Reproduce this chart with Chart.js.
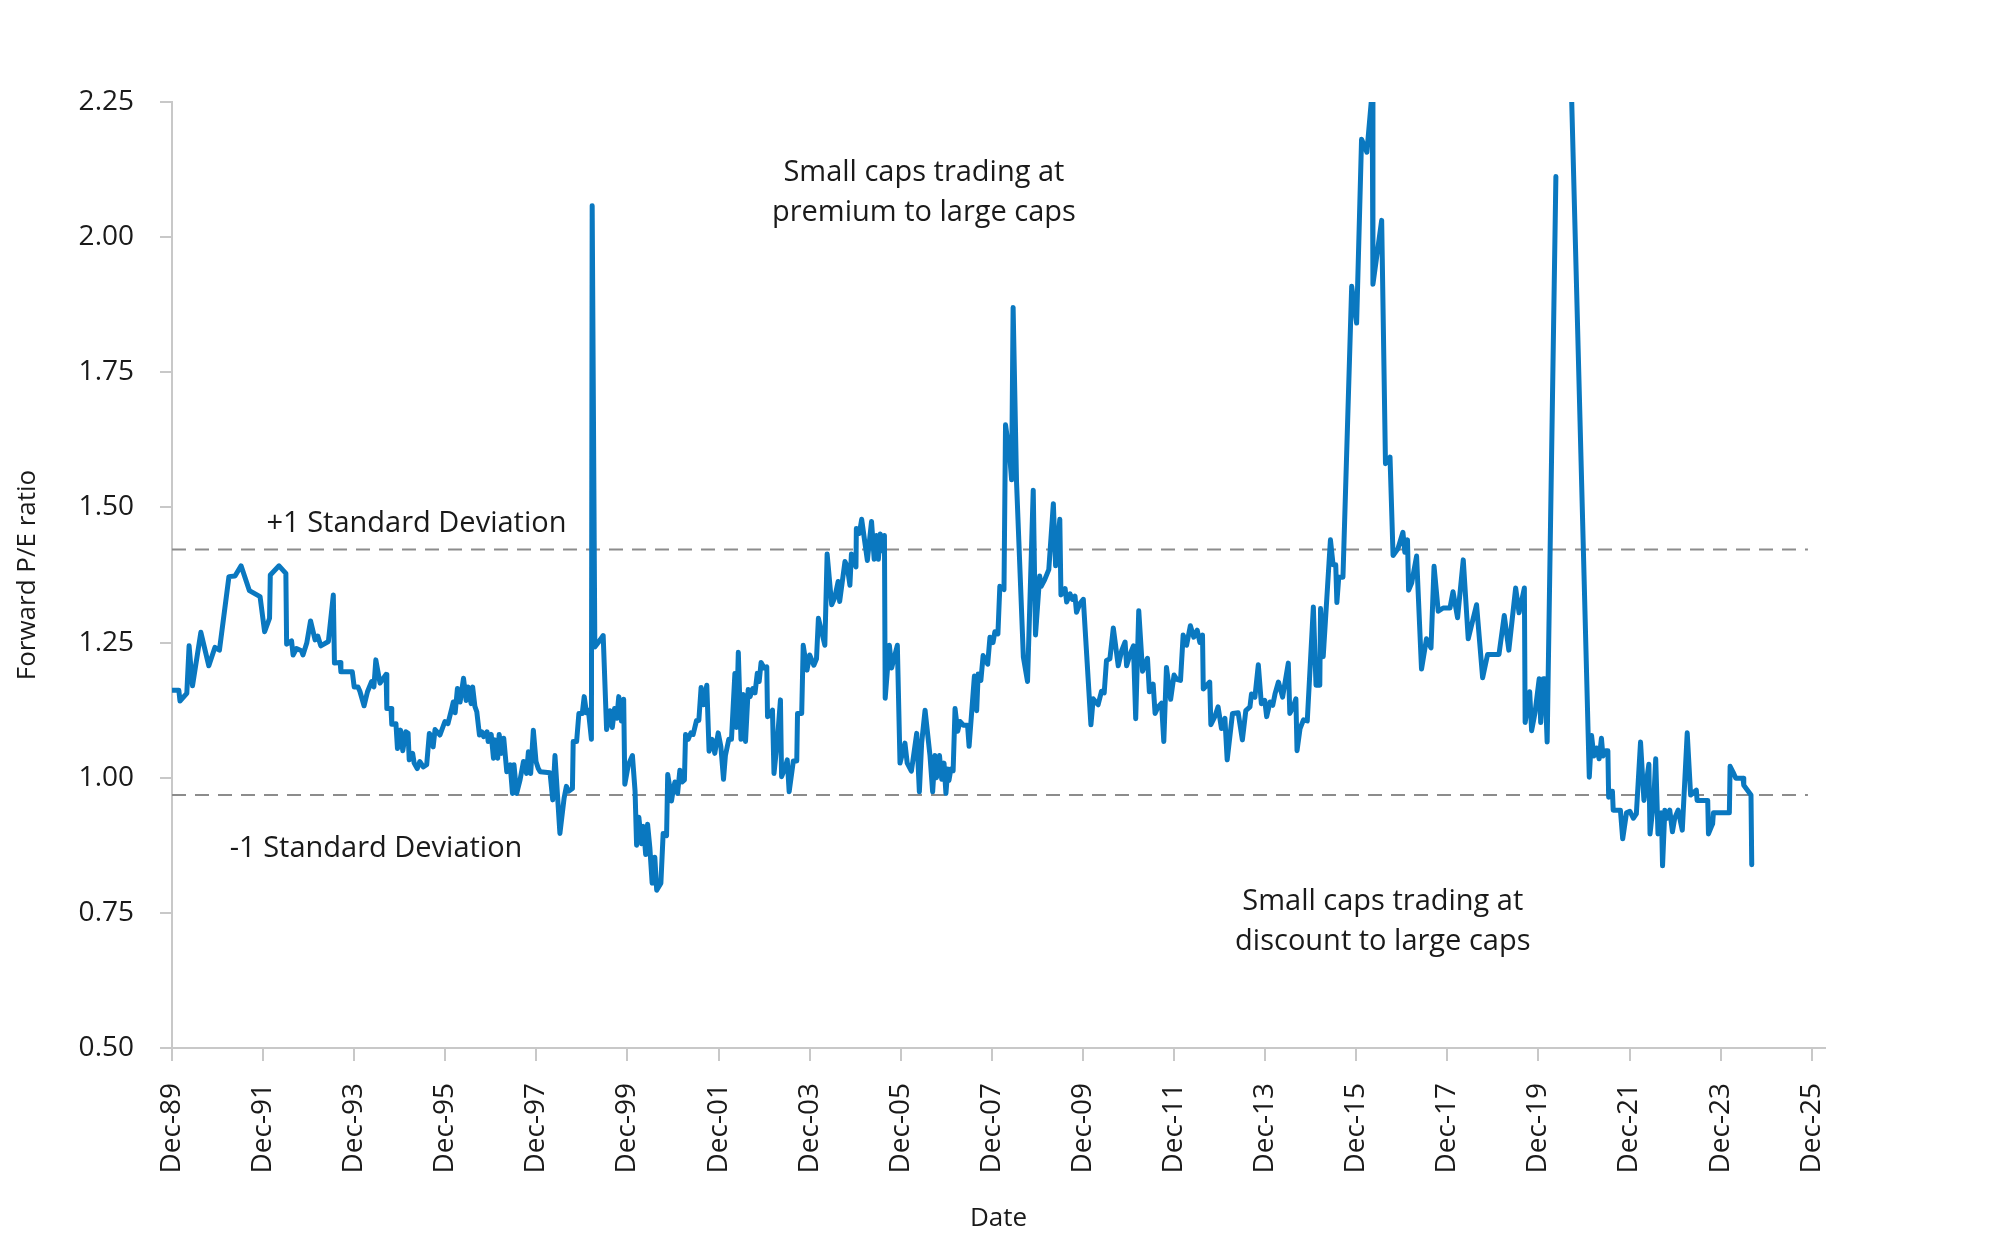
<!DOCTYPE html>
<html>
<head>
<meta charset="utf-8">
<style>
  html, body { margin: 0; padding: 0; background: #ffffff; }
  #wrap { width: 2000px; height: 1249px; }
</style>
<script src="https://cdn.jsdelivr.net/npm/chart.js@4"></script>
</head>
<body>
<div id="wrap"><canvas id="c" width="2000" height="1249"></canvas></div>
<script>
// ---------------- DATA ----------------
// Months elapsed since December 1989 (vertices of the monthly series)
const monthIndex = [
  0, 1.8, 2.1, 3.9, 4.5, 5.4, 7.6, 9.7, 11.3, 12.5,
  15.0, 16.6, 18.2, 20.4, 23.2, 24.4, 25.7, 25.9, 28.2, 30.0,
  30.2, 31.5, 31.9, 32.8, 34.1, 34.5, 35.5, 36.5, 37.7, 38.4,
  39.2, 41.2, 42.5, 42.8, 44.3, 44.5, 47.5, 48.0, 49.0, 49.5,
  50.6, 51.5, 52.6, 53.2, 53.7, 54.8, 56.4, 56.6, 57.7, 57.9,
  59.0, 59.4, 60.2, 60.8, 61.6, 62.2, 62.5, 63.4, 63.8, 64.6,
  65.3, 66.2, 67.1, 67.8, 68.4, 68.8, 69.3, 70.6, 71.9, 72.7,
  73.7, 74.1, 74.6, 75.2, 75.9, 76.8, 77.5, 78.0, 78.8, 79.2,
  79.8, 80.3, 81.0, 81.6, 82.1, 83.0, 83.3, 84.1, 84.7, 85.1,
  85.8, 86.2, 86.8, 87.4, 88.2, 89.1, 89.7, 90.1, 90.8, 91.7,
  92.6, 93.4, 93.9, 94.5, 95.2, 95.9, 96.5, 97.0, 99.6, 100.3,
  100.9, 102.2, 103.3, 103.9, 104.5, 105.5, 105.7, 106.6, 107.2, 108.1,
  108.6, 109.2, 109.7, 110.5, 110.7, 111.4, 112.8, 113.6, 114.5, 115.4,
  116.0, 116.6, 117.2, 117.7, 118.4, 119.0, 119.3, 120.2, 121.3, 122.0,
  122.4, 123.0, 123.7, 124.2, 124.8, 125.3, 125.9, 126.5, 127.2, 127.7,
  128.8, 129.4, 130.3, 130.6, 131.2, 131.6, 132.1, 132.5, 133.2, 133.8,
  134.4, 135.0, 135.3, 136.0, 136.7, 137.3, 138.2, 138.8, 139.4, 140.0,
  140.9, 141.5, 142.3, 143.0, 143.9, 144.6, 145.3, 145.8, 146.7, 147.4,
  148.3, 148.7, 149.2, 149.9, 150.5, 151.1, 151.8, 152.3, 153.0, 153.6,
  154.2, 154.7, 155.2, 156.0, 156.7, 156.9, 157.7, 158.2, 158.6, 159.5,
  160.3, 160.6, 161.5, 162.1, 162.6, 163.7, 164.6, 164.8, 165.9, 166.3,
  167.3, 168.0, 169.1, 169.8, 170.3, 172.0, 172.6, 173.8, 174.6, 175.5,
  175.9, 177.3, 177.9, 178.6, 179.0, 180.2, 180.3, 181.1, 181.7, 183.2,
  184.3, 185.0, 185.6, 186.1, 186.6, 187.1, 187.7, 187.9, 189.0, 189.6,
  191.1, 191.8, 193.1, 193.7, 194.8, 196.2, 196.9, 197.5, 198.4, 199.7,
  200.4, 201.0, 201.4, 202.2, 202.8, 203.4, 203.9, 204.4, 204.7, 205.2,
  205.8, 206.3, 207.0, 207.6, 208.5, 209.6, 210.0, 211.4, 212.0, 212.4,
  213.1, 213.7, 214.9, 215.5, 216.3, 216.8, 217.6, 218.1, 219.2, 219.6,
  220.7, 221.2, 221.6, 222.5, 224.3, 225.4, 226.9, 227.5, 228.6, 229.0,
  229.9, 231.0, 232.2, 232.8, 233.9, 234.2, 235.3, 235.7, 236.6, 237.2,
  237.9, 238.3, 239.2, 240.1, 242.1, 242.7, 244.0, 244.9, 245.6, 246.2,
  247.1, 248.0, 249.3, 250.2, 251.1, 251.5, 252.4, 253.3, 253.9, 254.7,
  255.7, 257.0, 257.5, 258.5, 259.0, 259.8, 260.7, 261.3, 262.0, 263.1,
  264.0, 264.7, 265.7, 266.4, 267.3, 268.3, 269.2, 270.1, 270.8, 271.5,
  271.7, 273.4, 273.7, 274.8, 275.6, 276.5, 277.4, 278.0, 279.4, 280.9,
  282.0, 282.9, 284.0, 284.4, 285.3, 286.2, 287.0, 287.9, 288.4, 289.3,
  290.0, 290.6, 291.5, 292.6, 294.1, 294.5, 295.4, 296.1, 296.4, 297.2,
  298.1, 299.1, 300.7, 301.4, 302.4, 302.6, 303.3, 305.2, 305.9, 306.6,
  306.9, 307.4, 308.5, 310.8, 312.1, 313.4, 314.8, 316.2, 316.4, 318.7,
  319.7, 320.9, 321.7, 323.0, 324.3, 324.8, 325.5, 325.8, 326.6, 327.9,
  329.2, 330.5, 331.7, 332.5, 333.6, 334.9, 336.7, 337.5, 338.7, 340.2,
  341.5, 343.7, 345.3, 346.6, 349.6, 351.0, 352.2, 354.0, 354.9, 356.3,
  356.5, 357.7, 358.2, 359.1, 360.2, 360.6, 361.3, 361.7, 362.3, 364.6,
  366.5, 368.7, 373.4, 374.0, 374.6, 375.3, 376.0, 376.6, 377.0, 377.8,
  378.3, 378.5, 379.0, 379.5, 379.7, 381.6, 382.2, 383.2, 384.1, 385.0,
  385.8, 386.9, 387.8, 389.1, 389.4, 390.4, 390.9, 391.5, 392.4, 392.7,
  393.3, 393.9, 394.6, 395.3, 395.9, 396.8, 397.9, 399.2, 400.1, 401.6,
  401.8, 404.6, 404.8, 405.6, 405.9, 406.1, 410.3, 410.5, 411.3, 412.0,
  413.9, 414.1, 416.0, 416.2
];

// Forward P/E ratio, Russell 2000 relative to large caps (off-scale months left null)
const forwardPE = [
  1.162, 1.162, 1.142, 1.156, 1.244, 1.170, 1.269, 1.207, 1.241, 1.236,
  1.372, 1.373, 1.392, 1.346, 1.335, 1.270, 1.295, 1.375, 1.392, 1.378,
  1.247, 1.253, 1.227, 1.239, 1.235, 1.227, 1.249, 1.290, 1.255, 1.262,
  1.244, 1.252, 1.338, 1.212, 1.213, 1.196, 1.196, 1.168, 1.168, 1.160,
  1.133, 1.159, 1.178, 1.168, 1.218, 1.175, 1.191, 1.128, 1.128, 1.099,
  1.100, 1.054, 1.088, 1.050, 1.085, 1.082, 1.033, 1.045, 1.027, 1.017,
  1.030, 1.020, 1.024, 1.082, 1.076, 1.057, 1.089, 1.079, 1.104, 1.100,
  1.128, 1.140, 1.120, 1.165, 1.140, 1.184, 1.143, 1.168, 1.137, 1.168,
  1.132, 1.122, 1.079, 1.085, 1.076, 1.085, 1.067, 1.080, 1.036, 1.070,
  1.036, 1.080, 1.045, 1.073, 1.011, 1.024, 0.971, 1.024, 0.971, 0.996,
  1.030, 1.008, 1.048, 1.008, 1.088, 1.030, 1.017, 1.011, 1.009, 0.959,
  1.041, 0.897, 0.962, 0.984, 0.975, 0.980, 1.067, 1.067, 1.119, 1.119,
  1.150, 1.120, 1.125, 1.071, 2.058, 1.242, 1.255, 1.263, 1.089, 1.124,
  1.093, 1.128, 1.110, 1.150, 1.105, 1.145, 0.988, 1.023, 1.041, 0.975,
  0.875, 0.927, 0.878, 0.910, 0.858, 0.914, 0.870, 0.805, 0.853, 0.792,
  0.805, 0.897, 0.893, 1.006, 0.980, 0.957, 0.980, 0.992, 0.971, 1.014,
  0.992, 0.996, 1.080, 1.071, 1.083, 1.080, 1.106, 1.106, 1.167, 1.135,
  1.171, 1.049, 1.071, 1.045, 1.083, 1.058, 0.997, 1.041, 1.071, 1.071,
  1.193, 1.093, 1.232, 1.071, 1.154, 1.067, 1.163, 1.150, 1.165, 1.157,
  1.193, 1.178, 1.213, 1.203, 1.205, 1.113, 1.116, 1.125, 1.008, 1.070,
  1.144, 1.002, 1.018, 1.033, 0.974, 1.031, 1.031, 1.119, 1.119, 1.245,
  1.199, 1.227, 1.208, 1.220, 1.295, 1.245, 1.414, 1.320, 1.333, 1.363,
  1.326, 1.400, 1.391, 1.356, 1.414, 1.390, 1.461, 1.452, 1.478, 1.402,
  1.474, 1.404, 1.448, 1.404, 1.451, 1.420, 1.448, 1.147, 1.245, 1.203,
  1.245, 1.027, 1.064, 1.027, 1.012, 1.082, 0.974, 1.064, 1.125, 1.041,
  0.974, 1.041, 1.000, 1.041, 0.997, 1.027, 0.971, 1.016, 0.995, 1.016,
  1.013, 1.128, 1.086, 1.104, 1.097, 1.097, 1.058, 1.188, 1.124, 1.192,
  1.180, 1.226, 1.210, 1.260, 1.250, 1.270, 1.266, 1.354, 1.348, 1.653,
  1.596, 1.551, 1.870, 1.547, 1.223, 1.178, 1.532, 1.264, 1.373, 1.354,
  1.366, 1.385, 1.507, 1.392, 1.478, 1.338, 1.350, 1.325, 1.340, 1.330,
  1.336, 1.306, 1.322, 1.330, 1.098, 1.146, 1.135, 1.160, 1.157, 1.217,
  1.220, 1.277, 1.207, 1.235, 1.251, 1.207, 1.228, 1.244, 1.109, 1.309,
  1.197, 1.221, 1.159, 1.173, 1.119, 1.131, 1.138, 1.067, 1.204, 1.145,
  1.190, 1.182, 1.180, 1.264, 1.245, 1.281, 1.260, 1.273, 1.250, 1.264,
  1.164, 1.177, 1.098, 1.114, 1.131, 1.091, 1.110, 1.033, 1.119, 1.120,
  1.070, 1.124, 1.131, 1.155, 1.149, 1.209, 1.137, 1.143, 1.113, 1.140,
  1.134, 1.155, 1.177, 1.149, 1.212, 1.119, 1.131, 1.146, 1.050, 1.091,
  1.107, 1.105, 1.316, 1.171, 1.171, 1.313, 1.224, 1.440, 1.394, 1.394,
  1.324, 1.371, 1.371, 1.909, 1.841, 2.181, 2.157, 2.270, 1.913, 2.031,
  1.581, 1.593, 1.411, 1.424, 1.454, 1.417, 1.440, 1.347, 1.360, 1.410,
  1.201, 1.257, 1.240, 1.391, 1.308, 1.314, 1.314, 1.344, 1.296, 1.403,
  1.257, 1.320, 1.185, 1.228, 1.228, 1.300, 1.236, 1.351, 1.305, 1.351,
  1.102, 1.159, 1.087, 1.120, 1.183, 1.102, 1.183, 1.183, 1.066, 2.112,
  null, 2.270, 1.001, 1.078, 1.040, 1.055, 1.035, 1.073, 1.040, 1.050,
  1.050, 0.964, 0.975, 0.975, 0.940, 0.940, 0.887, 0.935, 0.938, 0.925,
  0.933, 1.066, 0.958, 1.025, 0.896, 0.961, 1.035, 0.896, 0.935, 0.837,
  0.940, 0.925, 0.940, 0.900, 0.925, 0.940, 0.903, 1.083, 0.968, 0.977,
  0.958, 0.958, 0.896, 0.910, 0.915, 0.935, 0.935, 1.021, 1.010, 0.999,
  0.999, 0.986, 0.968, 0.839
];

const plusOneSD = 1.422;
const minusOneSD = 0.968;
const sdSpan = [0, 431];

const xTickLabels = ['Dec-89','Dec-91','Dec-93','Dec-95','Dec-97','Dec-99','Dec-01','Dec-03','Dec-05',
  'Dec-07','Dec-09','Dec-11','Dec-13','Dec-15','Dec-17','Dec-19','Dec-21','Dec-23','Dec-25'];
const yTickValues = [0.50, 0.75, 1.00, 1.25, 1.50, 1.75, 2.00, 2.25];

const noteTexts = ['Small caps trading at', 'premium to large caps', '+1 Standard Deviation',
  '-1 Standard Deviation', 'Small caps trading at', 'discount to large caps'];

// ---------------- CHART ----------------
const FONT = '"Open Sans", "Noto Sans", sans-serif';
const TEXT = '#1a1a1a';
const AXIS = '#c8c8c8';

const mainPoints = monthIndex.map((m, i) => ({ x: m, y: forwardPE[i] }));

const notesPlugin = {
  id: 'notes',
  afterDatasetsDraw(chart) {
    const { ctx, scales: { x, y } } = chart;
    // anchor: [month, value, align]
    const anchors = [
      [198.1, 2.104, 'center'],
      [198.1, 2.030, 'center'],
      [24.9, 1.455, 'left'],
      [15.2, 0.853, 'left'],
      [319.0, 0.756, 'center'],
      [319.0, 0.681, 'center']
    ];
    ctx.save();
    ctx.fillStyle = TEXT;
    ctx.font = '29px ' + FONT;
    ctx.textBaseline = 'alphabetic';
    noteTexts.forEach((t, i) => {
      const a = anchors[i];
      ctx.textAlign = a[2];
      ctx.fillText(t, x.getPixelForValue(a[0]), y.getPixelForValue(a[1]));
    });
    ctx.restore();
  }
};

new Chart(document.getElementById('c'), {
  type: 'line',
  data: {
    datasets: [
      {
        data: mainPoints,
        borderColor: '#0a78c0',
        borderWidth: 5,
        borderJoinStyle: 'round',
        borderCapStyle: 'round',
        pointRadius: 0,
        tension: 0,
        spanGaps: false
      },
      {
        data: sdSpan.map(m => ({ x: m, y: plusOneSD })),
        borderColor: '#8c8c8c',
        borderWidth: 2,
        borderDash: [14, 9],
        pointRadius: 0
      },
      {
        data: sdSpan.map(m => ({ x: m, y: minusOneSD })),
        borderColor: '#8c8c8c',
        borderWidth: 2,
        borderDash: [14, 9],
        pointRadius: 0
      }
    ]
  },
  options: {
    responsive: false,
    devicePixelRatio: 1,
    animation: false,
    events: [],
    layout: { padding: { top: 102, right: 175, left: 0, bottom: 0 } },
    plugins: { legend: { display: false }, tooltip: { enabled: false } },
    scales: {
      x: {
        type: 'linear',
        min: 0,
        max: 435.5,
        afterFit(s) { s.height = 201; },
        afterBuildTicks(s) {
          s.ticks = xTickLabels.map((_, i) => ({ value: i * 24 }));
        },
        ticks: {
          autoSkip: false,
          minRotation: 90,
          maxRotation: 90,
          padding: 22,
          color: TEXT,
          font: { family: FONT, size: 28 },
          callback: (v) => xTickLabels[Math.round(v / 24)]
        },
        grid: { drawOnChartArea: false, drawTicks: true, tickLength: 13, color: AXIS, lineWidth: 2 },
        border: { display: true, color: AXIS, width: 2 },
        title: {
          display: true, text: 'Date', color: TEXT,
          font: { family: FONT, size: 26 },
          padding: { top: 0, bottom: 15 }
        }
      },
      y: {
        type: 'linear',
        min: 0.5,
        max: 2.25,
        afterFit(s) { s.width = 172; },
        afterBuildTicks(s) {
          s.ticks = yTickValues.map(v => ({ value: v }));
        },
        ticks: {
          padding: 26,
          color: TEXT,
          font: { family: FONT, size: 28 },
          callback: (v) => Number(v).toFixed(2)
        },
        grid: { drawOnChartArea: false, drawTicks: true, tickLength: 12, color: AXIS, lineWidth: 2 },
        border: { display: true, color: AXIS, width: 2 },
        title: {
          display: true, text: 'Forward P/E ratio', color: TEXT,
          font: { family: FONT, size: 26 },
          padding: { top: 12, bottom: 0 }
        }
      }
    }
  },
  plugins: [notesPlugin]
});
</script>
</body>
</html>
